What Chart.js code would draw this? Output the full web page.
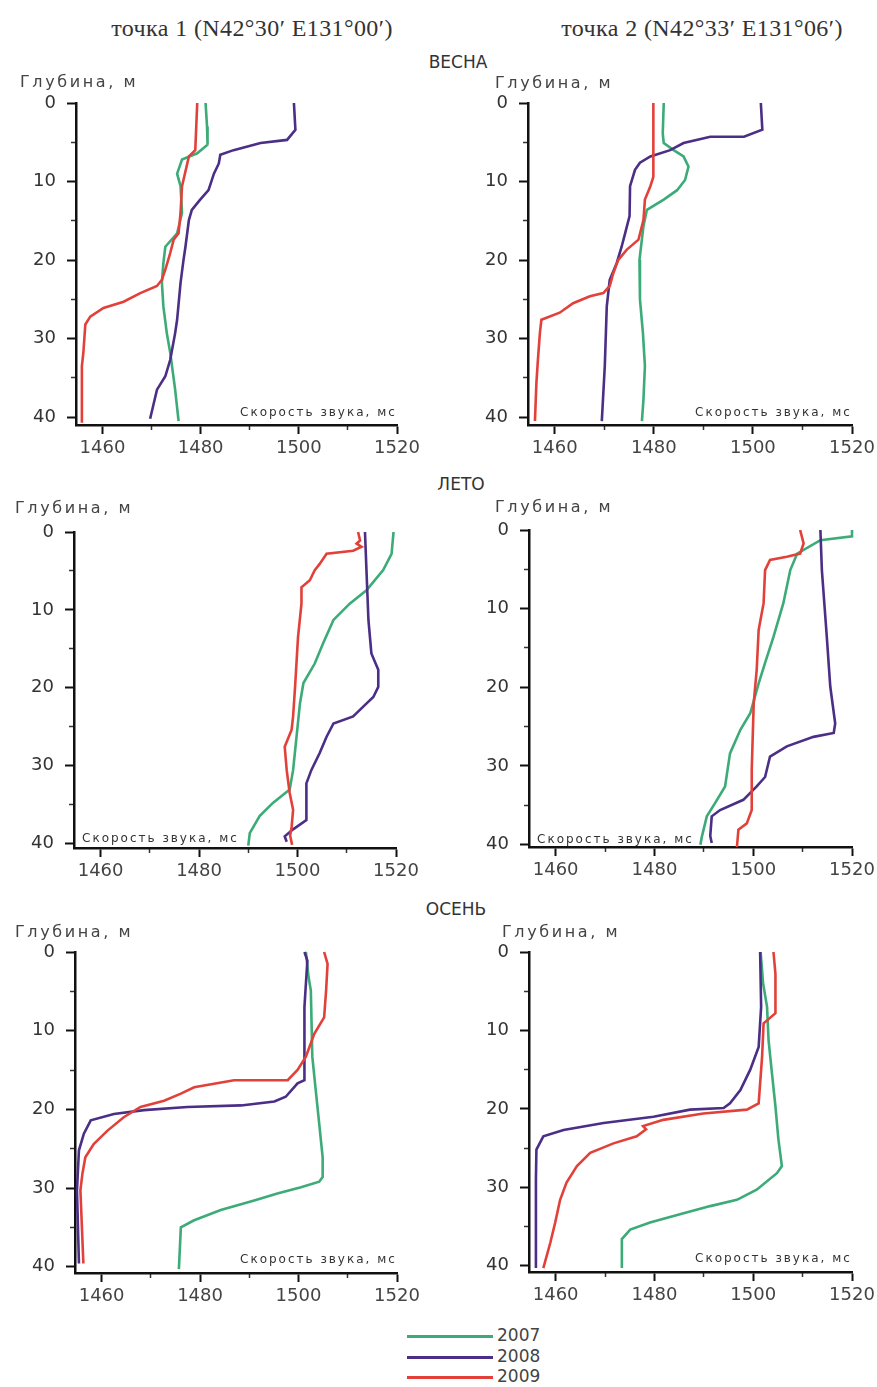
<!DOCTYPE html>
<html>
<head>
<meta charset="utf-8">
<script src="https://cdn.jsdelivr.net/npm/chart.js@4.4.1/dist/chart.umd.min.js"></script>
<style>
  body { margin: 0; background: #fff; width: 877px; height: 1387px; position: relative; overflow: hidden; }
  canvas { position: absolute; }
  .t { position: absolute; white-space: nowrap; color: #333; font-family: "DejaVu Sans", sans-serif; }
  .head { font-family: "Liberation Serif", serif; font-size: 24px; letter-spacing: 0.4px; color: #333; transform: translateX(-50%); }
  .season { font-size: 17px; color: #333; transform: translateX(-50%); }
  .depth { font-size: 16px; letter-spacing: 2.6px; color: #444; }
  .speed { font-size: 12px; letter-spacing: 2px; color: #333; }
  .leg { position: absolute; height: 3px; width: 86px; left: 407px; }
  .legt { position: absolute; left: 497px; font-family: "DejaVu Sans", sans-serif; font-size: 17px; color: #444; }
</style>
</head>
<body>
<script>
// speed of sound profiles, [speed m/s, depth m]
const years = ["2007", "2008", "2009"];
const colors = ["#3cab78", "#4b2e86", "#e2413a"];
const xTicks = [1460, 1480, 1500, 1520];
const xMinor = [1470, 1490, 1510];
const yTicks = [0, 10, 20, 30, 40];
const yMinor = [5, 15, 25, 35];

// весна, точка 1
const p1_2007 = [[1481,0],[1481.3,3],[1481.4,5.3],[1479.3,6.4],[1476.2,7.2],[1475.2,9],[1475.9,10.6],[1476.2,14],[1475.2,16.6],[1472.8,18.3],[1472.4,20.4],[1472.1,22.9],[1472.4,25.9],[1473.1,29.3],[1473.8,31.8],[1474.8,36.5],[1475.5,40.5]];
const p1_2008 = [[1499,0],[1499.3,3.4],[1497.6,4.7],[1492.2,5.1],[1486.7,6],[1484,6.6],[1483.7,7.7],[1482.7,9],[1481.6,11.1],[1479.9,12.3],[1478.2,13.6],[1477.6,14.9],[1476.9,18.3],[1476.5,20],[1475.9,22.9],[1475.2,27.6],[1474.8,29.3],[1473.8,32.7],[1472.8,34.8],[1471.1,36.5],[1469.7,40.2]];
const p1_2009 = [[1479.3,0],[1478.9,6],[1477.6,6.8],[1476.2,10.6],[1475.9,14],[1475.5,16.6],[1474.5,17.4],[1473.8,19.1],[1472.8,21.2],[1472.1,22.5],[1471.1,23.3],[1467.7,24.2],[1464.3,25.3],[1460.2,26.1],[1457.5,27.2],[1456.5,28.2],[1456.1,31.8],[1455.8,33.5],[1455.8,40.7]];
// весна, точка 2
const p2_2007 = [[1482,0],[1481.8,3.9],[1482,5.1],[1484,6],[1486,6.8],[1487,8.1],[1486.3,9.8],[1484.7,11.1],[1482,12.3],[1478.6,13.6],[1477.9,15.7],[1477.1,20],[1477.2,25],[1477.8,29.3],[1478.2,33.5],[1477.9,37.8],[1477.6,40.5]];
const p2_2008 = [[1501.6,0],[1501.9,3.4],[1498.2,4.3],[1491.4,4.3],[1486,5.1],[1483.3,6],[1479.3,6.8],[1477.2,7.6],[1476.2,8.5],[1475.2,10.6],[1475.1,14.4],[1474.2,16.6],[1473.5,18.3],[1472.5,20.4],[1471.1,22.5],[1470.5,25.9],[1470.1,33.5],[1469.5,40.5]];
const p2_2009 = [[1479.9,0],[1479.9,9.4],[1479.3,10.6],[1478.2,12.3],[1477.9,14.9],[1476.9,17.4],[1474.5,18.7],[1472.8,20],[1471.8,21.7],[1471.1,23.3],[1469.8,24.2],[1467.1,24.6],[1463.7,25.5],[1461,26.7],[1457.3,27.6],[1457,29.3],[1456.6,32.7],[1456.3,35.6],[1456,40.5]];
// лето, точка 1
const p3_2007 = [[1519.5,0],[1519.1,2.8],[1517.4,4.9],[1514,7.5],[1510.6,9.2],[1507.3,11.3],[1505.2,14.3],[1503.5,16.9],[1501.2,19.4],[1500.5,22],[1499.8,26.3],[1499.1,30.6],[1498.4,33.1],[1495,34.8],[1492.3,36.5],[1490.3,38.7],[1490,40.3]];
const p3_2008 = [[1513.7,0],[1514,4.9],[1514.4,11.3],[1515,15.6],[1516.4,17.7],[1516.4,19.9],[1515.4,21.2],[1513.4,22.4],[1511.3,23.7],[1507.3,24.6],[1505.9,26.3],[1504.5,28.4],[1502.8,30.6],[1501.8,32.3],[1501.8,37],[1499.1,38.2],[1497.4,39.1],[1497.8,39.8]];
const p3_2009 = [[1512.3,0],[1512.7,1.1],[1512,1.5],[1513,1.9],[1511.3,2.4],[1505.9,2.8],[1504.5,4.1],[1503.5,4.9],[1502.5,6.2],[1500.8,7.1],[1500.8,9.2],[1500.1,13.5],[1499.5,19.9],[1499.1,23.7],[1498.8,25.4],[1497.4,27.6],[1497.8,30.6],[1498.4,33.5],[1499.1,35.7],[1498.8,37.9],[1498.5,39],[1498.9,40.2]];
// лето, точка 2
const p4_2007 = [[1520,0],[1520,0.8],[1513.6,1.3],[1508.9,3],[1507.5,5.1],[1506.1,9.3],[1504.1,13.6],[1502.4,16.9],[1501.1,19.5],[1499.4,23.3],[1497.4,25.4],[1495.3,28.4],[1494.3,32.6],[1492.3,34.7],[1490.6,36.4],[1489.6,39],[1489.3,40]];
const p4_2008 = [[1513.6,0],[1513.9,5.1],[1514.9,13.6],[1515.6,19.9],[1516.6,24.6],[1516.3,25.8],[1512.2,26.3],[1506.8,27.5],[1503.4,28.8],[1502.4,31.4],[1500.7,32.6],[1498,34.3],[1493.3,35.6],[1491.6,36.4],[1491.3,38.9],[1491.6,39.8]];
const p4_2009 = [[1509.5,0],[1510.2,1.7],[1509.5,3],[1506.8,3.4],[1503.4,3.8],[1502.4,5.1],[1502.1,9.3],[1501.1,12.7],[1500.7,17.8],[1500.1,22],[1499.7,30.5],[1499.7,35.6],[1498.7,37.3],[1497,38.1],[1496.7,40.3]];
// осень, точка 1
const p5_2007 = [[1501.5,0],[1502,3],[1502.5,4.9],[1502.8,13.3],[1503.5,17.6],[1504.2,21.8],[1504.9,26.1],[1504.9,28.6],[1504.2,29.2],[1500.5,29.9],[1495.7,30.7],[1491,31.6],[1484.2,32.8],[1478.8,34.1],[1476.1,35],[1475.7,40.3]];
const p5_2008 = [[1501.2,0],[1501.8,1.1],[1501.5,4],[1501.2,7],[1501.2,16.3],[1499.8,16.7],[1497.4,18.4],[1495.1,19],[1488.3,19.5],[1477.4,19.7],[1468.6,20.1],[1462.5,20.6],[1457.8,21.4],[1456.4,23.1],[1455.4,25.2],[1455,30.3],[1455.4,39.6]];
const p5_2009 = [[1505.2,0],[1505.9,1.5],[1505.6,4.9],[1505.2,8.3],[1503.2,10.4],[1501.5,13.3],[1499.8,15],[1497.8,16.3],[1486.9,16.3],[1478.8,17.2],[1476.1,18],[1472.7,18.9],[1467.9,19.7],[1464.5,21],[1461.2,22.7],[1458.4,24.4],[1456.7,26.1],[1456.1,28.2],[1455.7,30.3],[1456.3,39.6]];
// осень, точка 2
const p6_2007 = [[1501.5,0],[1502,4],[1502.8,7],[1503.1,11.2],[1503.8,15.5],[1504.5,19.7],[1505.1,23.9],[1505.8,27.3],[1504.8,28.2],[1500.7,30.3],[1496.7,31.6],[1491.3,32.4],[1485.9,33.3],[1479.1,34.5],[1475.1,35.4],[1473.4,36.6],[1473.4,40.3]];
const p6_2008 = [[1501.4,0],[1501.6,7],[1501.1,12.1],[1499.4,15],[1497.4,17.6],[1495.3,19.3],[1494,19.9],[1487.2,20.1],[1479.8,21],[1469.7,21.8],[1461.6,22.7],[1457.5,23.5],[1456.1,25.2],[1456,29],[1456,40.3]];
const p6_2009 = [[1504.1,0],[1504.5,2.8],[1504.5,7.8],[1502.1,9.1],[1501.8,13.3],[1501.1,19.3],[1498.7,20.1],[1489.9,20.6],[1481.8,21.4],[1477.7,22.2],[1478.3,22.6],[1476.4,23.5],[1471.7,24.4],[1467,25.6],[1464.3,27.3],[1462.2,29.4],[1460.9,31.6],[1459.9,34.5],[1458.9,37.1],[1457.5,40.3]];

const X_MIN = 1454.6, X_MAX = 1520;
const AXIS_W = 70, AXIS_H = 42, PAD_T = 26, PAD_R = 32;

// chart area boxes: left, top, right, bottom, depth at bottom
const panels = [
  { box: [76, 103, 397, 425], ymax: 41.0, series: [p1_2007, p1_2008, p1_2009] },
  { box: [528, 103, 852, 425], ymax: 41.0, series: [p2_2007, p2_2008, p2_2009] },
  { box: [74, 532, 396, 848], ymax: 40.6, series: [p3_2007, p3_2008, p3_2009] },
  { box: [529, 530, 852, 847], ymax: 40.3, series: [p4_2007, p4_2008, p4_2009] },
  { box: [75, 952, 397, 1273], ymax: 40.8, series: [p5_2007, p5_2008, p5_2009] },
  { box: [529, 952, 852, 1272], ymax: 40.8, series: [p6_2007, p6_2008, p6_2009] },
];

function addText(cls, text, x, y, align) {
  const d = document.createElement("div");
  d.className = "t " + cls;
  d.textContent = text;
  d.style.left = x + "px";
  d.style.top = y + "px";
  document.body.appendChild(d);
  if (align === "right") d.style.left = (x - d.offsetWidth) + "px";
  return d;
}

function makePanel(p) {
  const [L, T, R, B] = p.box;
  const c = document.createElement("canvas");
  const w = (R - L) + AXIS_W + PAD_R;
  const h = (B - T) + PAD_T + AXIS_H;
  c.width = w; c.height = h;
  c.style.left = (L - AXIS_W) + "px";
  c.style.top = (T - PAD_T) + "px";
  c.style.width = w + "px"; c.style.height = h + "px";
  document.body.appendChild(c);

  // 2009 on top, 2007 underneath
  const datasets = [2, 1, 0].map(i => ({
    label: years[i],
    data: p.series[i].map(v => ({ x: v[0], y: v[1] })),
    borderColor: colors[i],
    borderWidth: 2.6,
    pointRadius: 0,
    showLine: true,
    tension: 0,
    clip: false,
    xAxisID: "x",
    yAxisID: "y",
  }));

  new Chart(c, {
    type: "scatter",
    data: { datasets },
    options: {
      responsive: false,
      animation: false,
      layout: { padding: { top: PAD_T, right: PAD_R, left: 0, bottom: 0 } },
      plugins: { legend: { display: false }, tooltip: { enabled: false } },
      scales: {
        x: {
          type: "linear",
          position: "bottom",
          min: X_MIN,
          max: X_MAX,
          afterBuildTicks: s => { s.ticks = xTicks.map(v => ({ value: v })); },
          afterFit: s => { s.height = AXIS_H; },
          grid: { drawOnChartArea: false, tickLength: 9, tickColor: "#111", tickWidth: 2 },
          border: { color: "#111", width: 2.5 },
          ticks: { color: "#444", padding: 4, maxRotation: 0, autoSkip: false, callback: v => String(v), font: { family: "DejaVu Sans", size: 18 } },
        },
        y: {
          type: "linear",
          position: "left",
          reverse: true,
          min: 0,
          max: p.ymax,
          afterBuildTicks: s => { s.ticks = yTicks.map(v => ({ value: v })); },
          afterFit: s => { s.width = AXIS_W; },
          grid: { drawOnChartArea: false, tickLength: 9, tickColor: "#111", tickWidth: 2 },
          border: { color: "#111", width: 2.5 },
          ticks: { color: "#333", padding: 11, autoSkip: false, callback: v => String(v), font: { family: "DejaVu Sans", size: 18 } },
        },
        xm: {
          type: "linear",
          axis: "x",
          position: { y: p.ymax },
          min: X_MIN,
          max: X_MAX,
          afterBuildTicks: s => { s.ticks = xMinor.map(v => ({ value: v })); },
          grid: { drawOnChartArea: false, tickLength: 5, tickColor: "#333", tickWidth: 1.5 },
          border: { display: false },
          ticks: { display: false },
        },
        ym: {
          type: "linear",
          axis: "y",
          position: { x: X_MIN },
          reverse: true,
          min: 0,
          max: p.ymax,
          afterBuildTicks: s => { s.ticks = yMinor.map(v => ({ value: v })); },
          grid: { drawOnChartArea: false, tickLength: 5, tickColor: "#333", tickWidth: 1.5 },
          border: { display: false },
          ticks: { display: false },
        },
      },
    },
  });
}

panels.forEach(makePanel);

// headings and axis captions
addText("head", "точка 1 (N42°30′ E131°00′)", 252, 15);
addText("head", "точка 2 (N42°33′ E131°06′)", 702, 15);
addText("season", "ВЕСНА", 458, 52);
addText("season", "ЛЕТО", 461, 474);
addText("season", "ОСЕНЬ", 456, 899);

const depthPos = [[20, 72], [495, 73], [15, 498], [495, 497], [15, 922], [502, 922]];
depthPos.forEach(([x, y]) => addText("depth", "Глубина, м", x, y));

addText("speed", "Скорость звука, мс", 397, 405, "right");
addText("speed", "Скорость звука, мс", 852, 405, "right");
addText("speed", "Скорость звука, мс", 82, 831);
addText("speed", "Скорость звука, мс", 537, 832);
addText("speed", "Скорость звука, мс", 397, 1252, "right");
addText("speed", "Скорость звука, мс", 852, 1251, "right");

// legend
const legY = [1336, 1357, 1377];
years.forEach((yr, i) => {
  const l = document.createElement("div");
  l.className = "leg";
  l.style.top = (legY[i] - 1) + "px";
  l.style.background = colors[i];
  document.body.appendChild(l);
  const t = document.createElement("div");
  t.className = "legt";
  t.textContent = yr;
  t.style.top = (legY[i] - 11) + "px";
  document.body.appendChild(t);
});
</script>
</body>
</html>
